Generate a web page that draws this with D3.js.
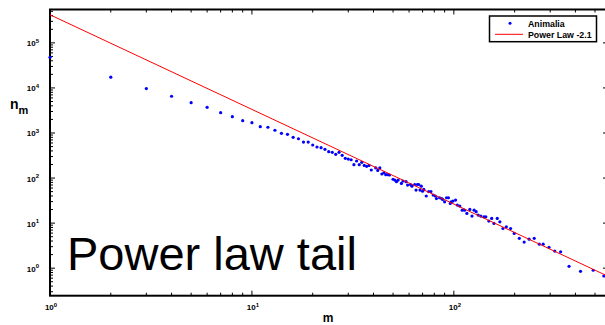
<!DOCTYPE html>
<html><head><meta charset="utf-8">
<script src="https://cdn.jsdelivr.net/npm/d3@7"></script>
<style>
body{margin:0;background:#fff}
svg{display:block;font-family:"Liberation Sans",Arial,Helvetica,sans-serif}
</style>
</head><body>
<svg id="chart" width="605" height="325"></svg>
<script>
// degree values m and counts n_m
const mVals = [1,2,3,4,5,6,7,8,9,10,11,12,13,14,15,16,17,18,19,20,21,22,23,24,25,26,27,28,29,30,
  31,32,33,34,35,36,37,38,39,41,42,43,44,45,46,47,48,50,51,52,53,55,56,58,59,61,62,64,65,66,67,68,69,70,71,
  73,75,77,79,81,82,85,87,88,90,92,94,96,97,99,102,104,107,110,113,116,120,123,126,129,132,136,141,144,
  149,154,158,164,169,175,182,191,199,211,223,236,250,265,277,296,316,338,372,424,490,553];
const nVals = [48000,17300,9650,6540,4710,3720,2830,2300,1880,1690,1380,1340,1150,985,935,800,745,630,630,541,
  489,472,434,384,372,336,372,319,274,264,255,198,239,198,223,191,182,191,151,169,148,169,123,131,119,119,117,
  94,90,83,90,76,86,83,70,72,66,72,54,72,72,54,66,51,56,40,50,50,42,40,35,36.5,35,33.6,29.7,36.5,36.5,27.4,
  29.7,30.8,32.4,25.1,23.9,19.4,19.4,16.4,20.1,14.3,19.4,17.9,15.1,14.3,13.8,13.8,11.1,12.7,9.85,12.7,10.7,
  7.6,8.3,7.6,5.9,4.6,3.8,4.4,4.6,3.4,3.4,2.9,2.4,2.3,1.1,0.85,0.9,0.67];
// fitted power law, exponent -2.1 (end points)
const fitM = [1, 580];
const fitN = [4.2e5, 0.661];
const legendLabels = ['Animalia', 'Power Law -2.1'];
const xDomain = [1, 580], yDomain = [0.245, 5.5e5];

const svg = d3.select('#chart');
const m = {l:50, r:608, t:9.5, b:295.7};
const x = d3.scaleLog().domain(xDomain).range([m.l, m.r]);
const y = d3.scaleLog().domain(yDomain).range([m.b, m.t]);
const isMajor = v => Math.abs(Math.log10(v) - Math.round(Math.log10(v))) < 1e-9;

// axes with inward ticks (box style)
function ticks(g, scale, orient){
  scale.ticks().forEach(v=>{
    const L = isMajor(v) ? 5 : 3, p = scale(v);
    const ln = g.append('line').attr('stroke','#000').attr('stroke-width',1);
    if(orient==='bottom') ln.attr('x1',p).attr('x2',p).attr('y1',m.b).attr('y2',m.b-L);
    if(orient==='top') ln.attr('x1',p).attr('x2',p).attr('y1',m.t).attr('y2',m.t+L);
    if(orient==='left') ln.attr('x1',m.l).attr('x2',m.l+L).attr('y1',p).attr('y2',p);
    if(orient==='right') ln.attr('x1',m.r).attr('x2',m.r-L).attr('y1',p).attr('y2',p);
  });
}
const ax = svg.append('g');
ticks(ax, x, 'bottom'); ticks(ax, x, 'top'); ticks(ax, y, 'left'); ticks(ax, y, 'right');
ax.append('rect').attr('x',m.l).attr('y',m.t).attr('width',m.r-m.l).attr('height',m.b-m.t)
  .attr('fill','none').attr('stroke','#000').attr('stroke-width',2);

function powLabel(g, v, px, py, anchor){
  const t = g.append('text').attr('x',px).attr('y',py).attr('text-anchor',anchor)
    .attr('font-size',8).attr('font-weight','bold').attr('fill','#000');
  t.append('tspan').text('10');
  t.append('tspan').attr('dy',-3.5).attr('font-size',6).text(Math.round(Math.log10(v)));
}
x.ticks().filter(isMajor).forEach(v=>powLabel(ax, v, x(v)+1, 310, 'middle'));
y.ticks().filter(isMajor).forEach(v=>powLabel(ax, v, 39, y(v)+3.5, 'end'));

// data, on top of the frame
const pts = mVals.map((v,i)=>[v, nVals[i]]);
svg.append('g').selectAll('circle').data(pts).join('circle')
  .attr('cx', d=>x(d[0])).attr('cy', d=>y(d[1])).attr('r', 1.6).attr('fill', '#0000ff');
svg.append('path').datum(fitM.map((v,i)=>[v, fitN[i]]))
  .attr('d', d3.line().x(d=>x(d[0])).y(d=>y(d[1])))
  .attr('stroke', '#ff0000').attr('stroke-width', 1).attr('fill', 'none');

// axis titles
const yl = svg.append('text').attr('x',10).attr('y',109).attr('font-weight','bold').attr('font-size',14);
yl.append('tspan').text('n');
yl.append('tspan').attr('dy',5).attr('font-size',11).text('m');
svg.append('text').attr('x',328).attr('y',321.5).attr('text-anchor','middle')
  .attr('font-weight','bold').attr('font-size',12).text('m');

// annotation
svg.append('text').attr('x',67).attr('y',270).attr('font-size',47).attr('fill','#000').text('Power law tail');

// legend
const lg = svg.append('g');
lg.append('rect').attr('x',489.5).attr('y',16).attr('width',107).attr('height',25.7)
  .attr('fill','#fff').attr('stroke','#000').attr('stroke-width',1.5);
lg.append('circle').attr('cx',510).attr('cy',23.3).attr('r',1.5).attr('fill','#0000ff');
lg.append('line').attr('x1',495).attr('x2',523).attr('y1',34.3).attr('y2',34.3).attr('stroke','#ff0000');
legendLabels.forEach((s,i)=>lg.append('text').attr('x',528).attr('y',26.5+i*11)
  .attr('font-size',8.8).attr('font-weight','bold').text(s));
</script>
</body></html>
